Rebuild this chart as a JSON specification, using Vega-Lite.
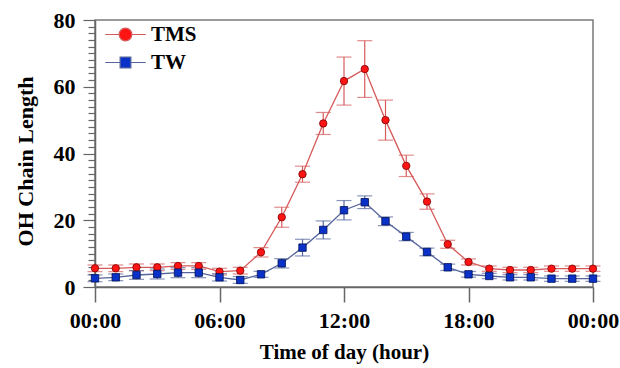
{
  "$schema": "https://vega.github.io/schema/vega-lite/v6.json",
  "width": 498,
  "height": 267,
  "autosize": {"type": "none"},
  "padding": {"left": 95, "top": 20, "right": 27, "bottom": 81},
  "background": "white",
  "config": {
    "view": {"stroke": "#7a7a7a", "strokeWidth": 1.5},
    "font": "Liberation Serif"
  },
  "data": {
    "values": [
      {"hour": 0, "series": "TMS", "value": 5.6, "err": 1.0},
      {"hour": 1, "series": "TMS", "value": 5.6, "err": 1.0},
      {"hour": 2, "series": "TMS", "value": 5.9, "err": 1.0},
      {"hour": 3, "series": "TMS", "value": 5.9, "err": 1.0},
      {"hour": 4, "series": "TMS", "value": 6.3, "err": 1.0},
      {"hour": 5, "series": "TMS", "value": 6.3, "err": 1.0},
      {"hour": 6, "series": "TMS", "value": 4.6, "err": 1.0},
      {"hour": 7, "series": "TMS", "value": 4.9, "err": 1.0},
      {"hour": 8, "series": "TMS", "value": 10.4, "err": 1.4},
      {"hour": 9, "series": "TMS", "value": 20.9, "err": 3.0},
      {"hour": 10, "series": "TMS", "value": 33.8, "err": 2.4},
      {"hour": 11, "series": "TMS", "value": 49.0, "err": 3.3},
      {"hour": 12, "series": "TMS", "value": 61.7, "err": 7.2},
      {"hour": 13, "series": "TMS", "value": 65.3, "err": 8.5},
      {"hour": 14, "series": "TMS", "value": 50.0, "err": 6.0},
      {"hour": 15, "series": "TMS", "value": 36.3, "err": 3.2},
      {"hour": 16, "series": "TMS", "value": 25.6, "err": 2.3},
      {"hour": 17, "series": "TMS", "value": 12.8, "err": 1.2},
      {"hour": 18, "series": "TMS", "value": 7.5, "err": 0.9},
      {"hour": 19, "series": "TMS", "value": 5.5, "err": 0.8},
      {"hour": 20, "series": "TMS", "value": 5.1, "err": 0.8},
      {"hour": 21, "series": "TMS", "value": 5.1, "err": 0.8},
      {"hour": 22, "series": "TMS", "value": 5.5, "err": 0.8},
      {"hour": 23, "series": "TMS", "value": 5.5, "err": 0.8},
      {"hour": 24, "series": "TMS", "value": 5.5, "err": 0.8},
      {"hour": 0, "series": "TW", "value": 2.6, "err": 1.0},
      {"hour": 1, "series": "TW", "value": 2.9, "err": 1.0},
      {"hour": 2, "series": "TW", "value": 3.6, "err": 1.3},
      {"hour": 3, "series": "TW", "value": 3.9, "err": 1.5},
      {"hour": 4, "series": "TW", "value": 4.3, "err": 1.5},
      {"hour": 5, "series": "TW", "value": 4.3, "err": 1.5},
      {"hour": 6, "series": "TW", "value": 2.9, "err": 1.1},
      {"hour": 7, "series": "TW", "value": 2.1, "err": 1.0},
      {"hour": 8, "series": "TW", "value": 3.8, "err": 0.9},
      {"hour": 9, "series": "TW", "value": 7.1, "err": 1.4},
      {"hour": 10, "series": "TW", "value": 11.8, "err": 2.5},
      {"hour": 11, "series": "TW", "value": 17.1, "err": 2.7},
      {"hour": 12, "series": "TW", "value": 23.0, "err": 2.9},
      {"hour": 13, "series": "TW", "value": 25.4, "err": 1.9},
      {"hour": 14, "series": "TW", "value": 19.7, "err": 1.3},
      {"hour": 15, "series": "TW", "value": 15.1, "err": 1.25},
      {"hour": 16, "series": "TW", "value": 10.5, "err": 1.15},
      {"hour": 17, "series": "TW", "value": 5.9, "err": 0.95},
      {"hour": 18, "series": "TW", "value": 3.8, "err": 0.85},
      {"hour": 19, "series": "TW", "value": 3.3, "err": 0.8},
      {"hour": 20, "series": "TW", "value": 2.9, "err": 0.8},
      {"hour": 21, "series": "TW", "value": 2.9, "err": 0.8},
      {"hour": 22, "series": "TW", "value": 2.5, "err": 0.8},
      {"hour": 23, "series": "TW", "value": 2.5, "err": 0.8},
      {"hour": 24, "series": "TW", "value": 2.5, "err": 0.8}
    ]
  },
  "encoding": {
    "x": {
      "field": "hour",
      "type": "quantitative",
      "scale": {"domain": [0, 24], "nice": false, "zero": false},
      "axis": {
        "values": [0, 6, 12, 18, 24],
        "labelExpr": "['00:00','06:00','12:00','18:00','00:00'][datum.value / 6]",
        "title": "Time of day (hour)",
        "grid": false,
        "tickSize": 15,
        "tickWidth": 1.5,
        "tickColor": "#666666",
        "domainColor": "#666666",
        "domainWidth": 1.5,
        "labelFont": "Liberation Serif",
        "labelFontSize": 22,
        "labelFontWeight": "bold",
        "labelColor": "#000000",
        "labelPadding": 8,
        "labelFlush": false,
        "titleFont": "Liberation Serif",
        "titleFontSize": 21,
        "titleFontWeight": "bold",
        "titleColor": "#000000",
        "titlePadding": 10
      }
    },
    "y": {
      "field": "value",
      "type": "quantitative",
      "scale": {"domain": [0, 80], "nice": false},
      "axis": {
        "values": [0, 2, 4, 6, 8, 10, 12, 14, 16, 18, 20, 22, 24, 26, 28, 30, 32, 34, 36, 38, 40, 42, 44, 46, 48, 50, 52, 54, 56, 58, 60, 62, 64, 66, 68, 70, 72, 74, 76, 78, 80],
        "labelExpr": "datum.value % 20 === 0 ? datum.label : ''",
        "title": "OH Chain Length",
        "grid": false,
        "tickSize": {"condition": {"test": "datum.value % 20 === 0", "value": 12}, "value": 7},
        "tickWidth": 1.2,
        "tickColor": "#666666",
        "domainColor": "#666666",
        "domainWidth": 1.5,
        "labelFont": "Liberation Serif",
        "labelFontSize": 22,
        "labelFontWeight": "bold",
        "labelColor": "#000000",
        "labelPadding": 8,
        "labelFlush": false,
        "labelOverlap": false,
        "titleFont": "Liberation Serif",
        "titleFontSize": 22,
        "titleFontWeight": "bold",
        "titleColor": "#000000",
        "titlePadding": 16,
        "titleY": 141
      }
    }
  },
  "layer": [
    {
      "mark": {
        "type": "errorbar",
        "ticks": {"size": 15, "thickness": 1.2},
        "rule": {"strokeWidth": 1.2}
      },
      "encoding": {
        "yError": {"field": "err"},
        "color": {
          "field": "series",
          "type": "nominal",
          "scale": {"domain": ["TW", "TMS"], "range": ["#56669c", "#d65a5a"]},
          "legend": null
        }
      }
    },
    {
      "mark": {"type": "line", "strokeWidth": 1.3},
      "encoding": {
        "color": {
          "field": "series",
          "type": "nominal",
          "scale": {"domain": ["TW", "TMS"], "range": ["#56669c", "#d65a5a"]},
          "legend": null
        }
      }
    },
    {
      "mark": {"type": "point", "filled": true, "opacity": 1, "size": 55, "strokeWidth": 0.8},
      "encoding": {
        "shape": {
          "condition": {"test": "datum.series === 'TMS'", "value": "circle"},
          "value": "square"
        },
        "fill": {
          "condition": {"test": "datum.series === 'TMS'", "value": "#ff1414"},
          "value": "#0a32c8"
        },
        "stroke": {
          "condition": {"test": "datum.series === 'TMS'", "value": "#7a0000"},
          "value": "#001055"
        }
      }
    },
    {
      "mark": {"type": "point", "filled": true, "opacity": 0, "size": 10},
      "encoding": {
        "shape": {
          "field": "series",
          "type": "nominal",
          "scale": {"domain": ["TMS", "TW"], "range": ["M-3.2,0H-1M1,0H3.2M-1,0A1,1 0 1,0 1,0A1,1 0 1,0 -1,0Z", "M-3.2,0H-0.85M0.85,0H3.2M-0.85,-0.85H0.85V0.85H-0.85Z"]},
          "legend": {
            "orient": "none",
            "legendX": 20,
            "legendY": 4,
            "title": null,
            "symbolSize": 160,
            "symbolStrokeWidth": 1.2,
            "symbolOpacity": 1,
            "labelFont": "Liberation Serif",
            "labelFontSize": 21,
            "labelFontWeight": "bold",
            "labelColor": "#000000",
            "labelOffset": 15,
            "rowPadding": 6,
            "padding": 0
          }
        },
        "fill": {
          "field": "series",
          "type": "nominal",
          "scale": {"domain": ["TMS", "TW"], "range": ["#ff1414", "#0a32c8"]},
          "legend": {
            "orient": "none",
            "legendX": 20,
            "legendY": 4,
            "title": null,
            "symbolSize": 160,
            "symbolStrokeWidth": 1.2,
            "symbolOpacity": 1,
            "labelFont": "Liberation Serif",
            "labelFontSize": 21,
            "labelFontWeight": "bold",
            "labelColor": "#000000",
            "labelOffset": 15,
            "rowPadding": 6,
            "padding": 0
          }
        },
        "stroke": {
          "field": "series",
          "type": "nominal",
          "scale": {"domain": ["TMS", "TW"], "range": ["#d65a5a", "#56669c"]},
          "legend": {
            "orient": "none",
            "legendX": 20,
            "legendY": 4,
            "title": null,
            "symbolSize": 160,
            "symbolStrokeWidth": 1.2,
            "symbolOpacity": 1,
            "labelFont": "Liberation Serif",
            "labelFontSize": 21,
            "labelFontWeight": "bold",
            "labelColor": "#000000",
            "labelOffset": 15,
            "rowPadding": 6,
            "padding": 0
          }
        }
      }
    }
  ]
}
